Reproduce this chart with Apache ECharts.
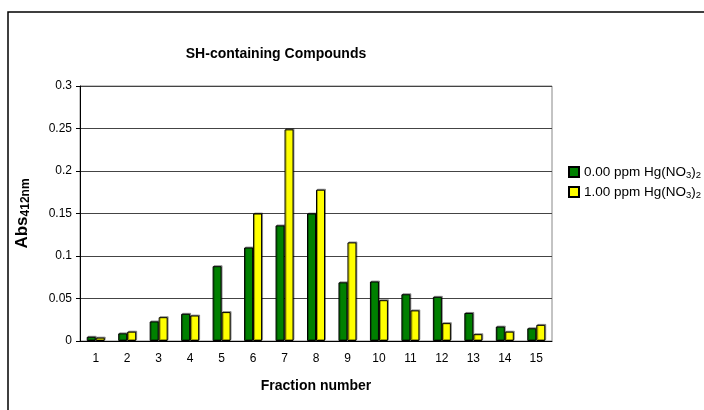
<!DOCTYPE html>
<html>
<head>
<meta charset="utf-8">
<script src="https://cdn.jsdelivr.net/npm/echarts@6/dist/echarts.min.js"></script>
<style>
  html, body { margin: 0; padding: 0; background: #fff; }
  #chart { width: 704px; height: 410px; }
</style>
</head>
<body>
<div id="chart"></div>
<script>
var fractions = ['1', '2', '3', '4', '5', '6', '7', '8', '9', '10', '11', '12', '13', '14', '15'];
var seriesNames = ['0.00 ppm Hg(NO3)2', '1.00 ppm Hg(NO3)2'];
var hg000 = [0.005, 0.009, 0.023, 0.032, 0.088, 0.110, 0.136, 0.150, 0.069, 0.070, 0.055, 0.052, 0.033, 0.017, 0.015];
var hg100 = [0.004, 0.011, 0.028, 0.030, 0.034, 0.150, 0.249, 0.178, 0.116, 0.048, 0.036, 0.021, 0.008, 0.011, 0.019];

var font = 'Liberation Sans, Arial, sans-serif';
var chart = echarts.init(document.getElementById('chart'));

var barStyle = function (color) {
    return {
        color: color,
        borderColor: '#000',
        borderWidth: 1,
        shadowColor: 'rgba(0,0,0,0.35)',
        shadowOffsetX: 1,
        shadowOffsetY: -1
    };
};

option = {
    animation: false,
    backgroundColor: '#fff',
    title: {
        text: 'SH-containing Compounds',
        left: 271,
        top: 42,
        textAlign: 'center',
        textStyle: { fontFamily: font, fontSize: 14, fontWeight: 'bold', color: '#000' }
    },
    legend: {
        orient: 'vertical',
        left: 563,
        top: 160,
        itemWidth: 10,
        itemHeight: 10,
        itemGap: 5,
        icon: 'rect',
        data: seriesNames,
        formatter: function (name) {
            // "0.00 ppm Hg(NO" + subscript 3 + ")" + subscript 2
            return '{t|' + name.slice(0, 14) + '}{s|3}{t|)}{s|2}';
        },
        textStyle: {
            fontFamily: font,
            color: '#000',
            rich: {
                t: { fontFamily: font, fontSize: 13.5, lineHeight: 16, color: '#000' },
                s: { fontFamily: font, fontSize: 9.5, lineHeight: 10, verticalAlign: 'bottom', color: '#000' }
            }
        }
    },
    grid: {
        left: 80,
        right: 152,
        top: 86,
        bottom: 69,
        show: true,
        borderColor: '#888',
        borderWidth: 1
    },
    xAxis: {
        type: 'category',
        data: fractions,
        name: 'Fraction number',
        nameLocation: 'middle',
        nameGap: 38,
        nameTextStyle: { fontFamily: font, fontSize: 14, fontWeight: 'bold', color: '#000' },
        axisLine: { lineStyle: { color: '#000', width: 1 } },
        axisTick: { length: 4, lineStyle: { color: '#000' } },
        axisLabel: { fontFamily: font, fontSize: 12, color: '#000', margin: 12 }
    },
    yAxis: {
        type: 'value',
        min: 0,
        max: 0.3,
        interval: 0.05,
        name: '{a|Abs}{s|412nm}',
        nameLocation: 'middle',
        nameRotate: 90,
        nameGap: 48,
        nameTextStyle: {
            rich: {
                a: { fontFamily: font, fontSize: 17, fontWeight: 'bold', lineHeight: 19, color: '#000' },
                s: { fontFamily: font, fontSize: 12, fontWeight: 'bold', lineHeight: 12, verticalAlign: 'bottom', color: '#000' }
            }
        },
        axisLine: { show: true, lineStyle: { color: '#000', width: 1 } },
        axisTick: { show: true, length: 4, lineStyle: { color: '#000' } },
        axisLabel: { fontFamily: font, fontSize: 12, color: '#000', margin: 8 },
        splitLine: { lineStyle: { color: '#444', width: 1 } }
    },
    series: [
        {
            name: seriesNames[0],
            type: 'bar',
            data: hg000,
            barWidth: 9,
            barGap: '0%',
            itemStyle: barStyle('#008000')
        },
        {
            name: seriesNames[1],
            type: 'bar',
            data: hg100,
            barWidth: 9,
            itemStyle: barStyle('#ffff00')
        }
    ],
    graphic: [
        {
            type: 'polyline',
            shape: { points: [[8, 410], [8, 12], [704, 12]] },
            style: { stroke: '#000', lineWidth: 1.5, fill: null }
        }
    ]
};

chart.setOption(option);
</script>
</body>
</html>
